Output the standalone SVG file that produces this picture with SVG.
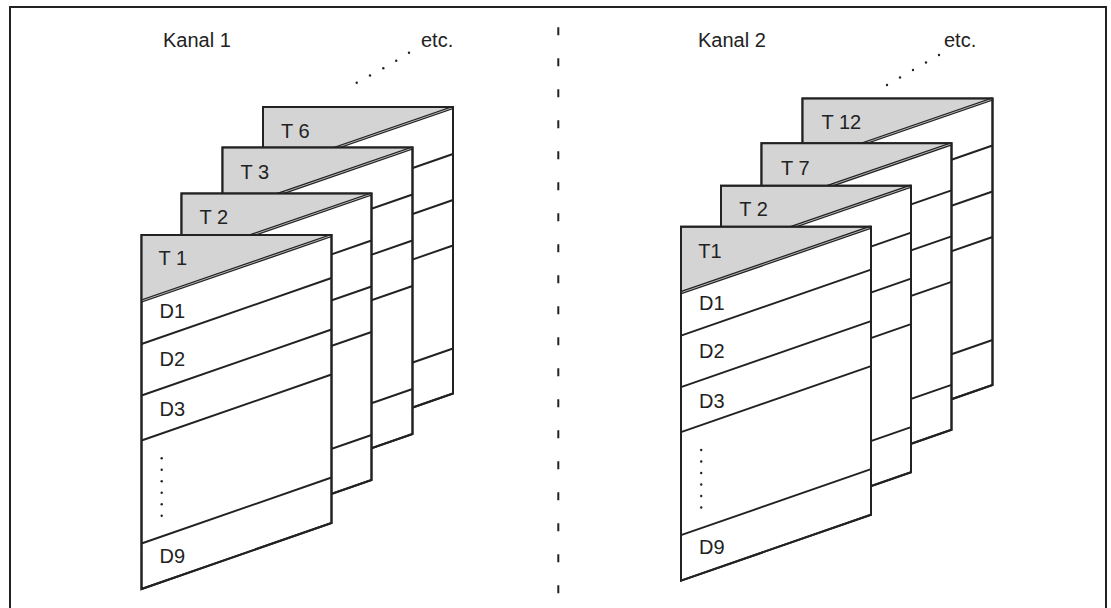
<svg xmlns="http://www.w3.org/2000/svg" width="1111" height="608" viewBox="0 0 1111 608">
<style>
  .txt{font-family:"Liberation Sans",Arial,sans-serif;font-size:20px;fill:#222}
  .card{fill:#fff;stroke:#222;stroke-width:2;stroke-linejoin:miter}
  .hdr{fill:#d4d4d4;stroke:none}
  .div{fill:none;stroke:#222;stroke-width:1.9}
  .diag{stroke:#222;stroke-width:3.4;fill:none}
  .diagin{stroke:#c4c4c4;stroke-width:0.9;fill:none}
  .frame{fill:none;stroke:#222;stroke-width:2}
  .dot{fill:#222}
</style>
<defs>
  <g id="backcard">
    <polygon class="card" points="0,0 190,0 190,286.5 0,352.5"/>
    <polygon class="hdr" points="1,1 189,1 1,65.5"/>
    <path class="div" d="M0,113 L190,47 M0,159 L190,93 M0,204.5 L190,138.5 M0,307.5 L190,241.5"/>
    <path class="diag" d="M190,0.5 L0,66"/>
    <path class="diagin" d="M190,0.5 L0,66"/>
    <polygon points="0,0 190,0 190,286.5 0,352.5" fill="none" stroke="#222" stroke-width="2"/>
  </g>
  <g id="frontcard">
    <polygon class="card" points="0,0 190,0 190,288 0,354"/>
    <polygon class="hdr" points="1,1 189,1 1,65.5"/>
    <path class="div" d="M0,109 L190,43 M0,160.5 L190,94.5 M0,205.5 L190,139.5 M0,308.5 L190,242.5"/>
    <path class="diag" d="M190,0.5 L0,66"/>
    <path class="diagin" d="M190,0.5 L0,66"/>
    <polygon points="0,0 190,0 190,288 0,354" fill="none" stroke="#222" stroke-width="2"/>
    <g class="dot">
      <circle cx="20.2" cy="223.3" r="1.2"/><circle cx="20.2" cy="234.8" r="1.2"/>
      <circle cx="20.2" cy="246.3" r="1.2"/><circle cx="20.2" cy="257.8" r="1.2"/>
      <circle cx="20.2" cy="269.3" r="1.2"/><circle cx="20.2" cy="280.8" r="1.2"/>
    </g>
  </g>
</defs>

<g id="frame">
  <path class="frame" d="M10,612 L10,7 L1106,7 L1106,612"/>
</g>

<g id="divider">
  <line x1="558.3" y1="27.3" x2="558.3" y2="600" stroke="#222" stroke-width="2" stroke-dasharray="8 23"/>
</g>

<g id="kanal1-label"><text class="txt" x="163" y="46.5">Kanal 1</text></g>
<g id="kanal2-label"><text class="txt" x="698" y="46.7">Kanal 2</text></g>

<g id="connectors">
  <g class="dot">
    <circle cx="356.7" cy="82.7" r="1.2"/><circle cx="370" cy="75.5" r="1.2"/>
    <circle cx="383.3" cy="68.3" r="1.2"/><circle cx="396.2" cy="60.7" r="1.2"/>
    <circle cx="409" cy="52.7" r="1.2"/>
  </g>
  <g class="dot">
    <circle cx="887" cy="85" r="1.2"/><circle cx="900" cy="77.5" r="1.2"/>
    <circle cx="913" cy="70" r="1.2"/><circle cx="926" cy="62.5" r="1.2"/>
    <circle cx="939" cy="55" r="1.2"/>
  </g>
</g>
<g id="etc1"><text class="txt" x="421" y="46.7">etc.</text></g>
<g id="etc2"><text class="txt" x="944" y="46.7">etc.</text></g>

<!-- Kanal 1 -->
<g id="k1-t6" transform="translate(263,107)">
  <use href="#backcard"/>
  <text class="txt" x="18" y="30.5">T 6</text>
</g>
<g id="k1-t3" transform="translate(222.5,147.5)">
  <use href="#backcard"/>
  <text class="txt" x="18" y="31">T 3</text>
</g>
<g id="k1-t2" transform="translate(181.5,193.5)">
  <use href="#backcard"/>
  <text class="txt" x="18" y="30.8">T 2</text>
</g>
<g id="k1-t1" transform="translate(141.5,235)">
  <use href="#frontcard"/>
  <text class="txt" x="17" y="29.5">T 1</text>
  <text class="txt" x="18" y="83.3">D1</text>
  <text class="txt" x="18" y="131">D2</text>
  <text class="txt" x="18" y="181">D3</text>
  <text class="txt" x="18" y="327.6">D9</text>
</g>

<!-- Kanal 2 -->
<g id="k2-t12" transform="translate(802.5,98.5)">
  <use href="#backcard"/>
  <text class="txt" x="19" y="30.5">T 12</text>
</g>
<g id="k2-t7" transform="translate(761.5,143.3)">
  <use href="#backcard"/>
  <text class="txt" x="19.5" y="31.7">T 7</text>
</g>
<g id="k2-t2" transform="translate(721,185.7)">
  <use href="#backcard"/>
  <text class="txt" x="18.3" y="30.3">T 2</text>
</g>
<g id="k2-t1" transform="translate(681,226.7)">
  <use href="#frontcard"/>
  <text class="txt" x="17.3" y="31">T1</text>
  <text class="txt" x="18" y="83">D1</text>
  <text class="txt" x="18" y="131.6">D2</text>
  <text class="txt" x="18" y="181.6">D3</text>
  <text class="txt" x="18" y="327.3">D9</text>
</g>
</svg>
